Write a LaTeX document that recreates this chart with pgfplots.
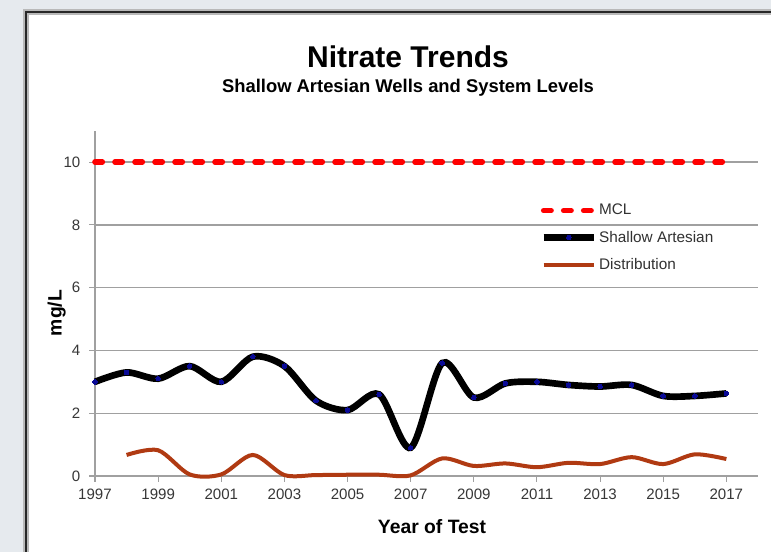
\documentclass[border=0pt]{standalone}
\usepackage{pgfplots}
\pgfplotsset{compat=1.18}
\usepackage{fontspec}
\setmainfont{Liberation Sans}
\definecolor{bg}{RGB}{230,234,238}
\definecolor{framec}{RGB}{40,40,40}
\definecolor{brownl}{RGB}{176,58,18}
\definecolor{dotblue}{RGB}{10,10,150}
\definecolor{gridg}{RGB}{160,160,160}
\definecolor{tickt}{RGB}{55,55,55}
\definecolor{legt}{RGB}{50,50,50}

\pgfplotstableread{
year val
1997 3.0
1998 3.3
1999 3.1
2000 3.5
2001 3.0
2002 3.8
2003 3.5
2004 2.4
2005 2.1
2006 2.6
2007 0.9
2008 3.6
2009 2.5
2010 2.95
2011 3.0
2012 2.9
2013 2.85
2014 2.9
2015 2.55
2016 2.55
2017 2.63
}\shallow

\pgfplotstableread{
year val
1998 0.67
1999 0.82
2000 0.05
2001 0.05
2002 0.67
2003 0.03
2004 0.03
2005 0.04
2006 0.04
2007 0.02
2008 0.56
2009 0.32
2010 0.40
2011 0.28
2012 0.42
2013 0.38
2014 0.60
2015 0.38
2016 0.69
2017 0.54
}\distrib

\pgfplotstableread{
year val
1997 10
2017 10
}\mcl

\begin{document}
\begin{tikzpicture}
\useasboundingbox (0,0) rectangle (578.25pt,414pt);
\fill[bg] (0,0) rectangle (578.25pt,414pt);
\fill[white] (19.5pt,-5pt) rectangle (590pt,405pt);
\draw[gray!55, line width=4.5pt] (19.5pt,-5pt) -- (19.5pt,405pt) -- (590pt,405pt);
\draw[framec, line width=2.2pt] (19.5pt,-5pt) -- (19.5pt,405pt) -- (590pt,405pt);

\begin{axis}[
  at={(71.25pt,57pt)}, anchor=south west,
  scale only axis, width=497.2pt, height=259pt,
  xmin=1997, xmax=2018, ymin=0, ymax=11,
  axis x line*=bottom, axis y line*=left,
  axis line style={-, gridg, line width=1pt},
  xtick={1997,1999,...,2017},
  ytick={0,2,...,10},
  ymajorgrids,
  grid style={gridg, line width=1pt},
  tick align=outside,
  major tick length=4.5pt,
  tick style={gridg, line width=0.8pt},
  xticklabel style={/pgf/number format/1000 sep={}, yshift=-2pt},
  yticklabel style={xshift=-3pt},
  /pgf/number format/assume math mode=true,
  ticklabel style={font=\fontsize{11.3}{13}\selectfont, text=tickt},
  legend style={at={(axis cs:2011.1,8.73)}, anchor=north west, draw=none, fill=none,
    font=\fontsize{11.5}{13}\selectfont, text=legt, row sep=7.5pt, inner sep=0pt,
    nodes={inner sep=1.5pt}},
  legend cell align=left,
  legend image code/.code={\draw[mark repeat=2,mark phase=2,#1] plot coordinates {(0cm,0cm) (0.66cm,0cm) (1.32cm,0cm)};},
  clip=false,
]
\addplot[red, line width=4.2pt, line cap=round, dash pattern=on 5.5pt off 9.5pt] table[x=year,y=val] {\mcl};
\addlegendentry{MCL}
\addplot[black, line width=5pt, smooth, tension=0.5, mark=*, mark size=1.7pt,
  mark options={fill=dotblue, draw=dotblue, line width=0pt, solid}] table[x=year,y=val] {\shallow};
\addlegendentry{Shallow Artesian}
\addplot[brownl, line width=3pt, smooth, tension=0.5] table[x=year,y=val] {\distrib};
\addlegendentry{Distribution}
\end{axis}

\node[font=\bfseries\fontsize{22.5}{26}\selectfont] at (306pt,371.25pt) {Nitrate Trends};
\node[font=\bfseries\fontsize{13.8}{16}\selectfont] at (306pt,348.5pt) {Shallow Artesian Wells and System Levels};
\node[font=\bfseries\fontsize{14.5}{17}\selectfont] at (324pt,18.75pt) {Year of Test};
\node[font=\bfseries\fontsize{14.5}{17}\selectfont, rotate=90] at (42.5pt,179.25pt) {mg/L};
\end{tikzpicture}
\end{document}
